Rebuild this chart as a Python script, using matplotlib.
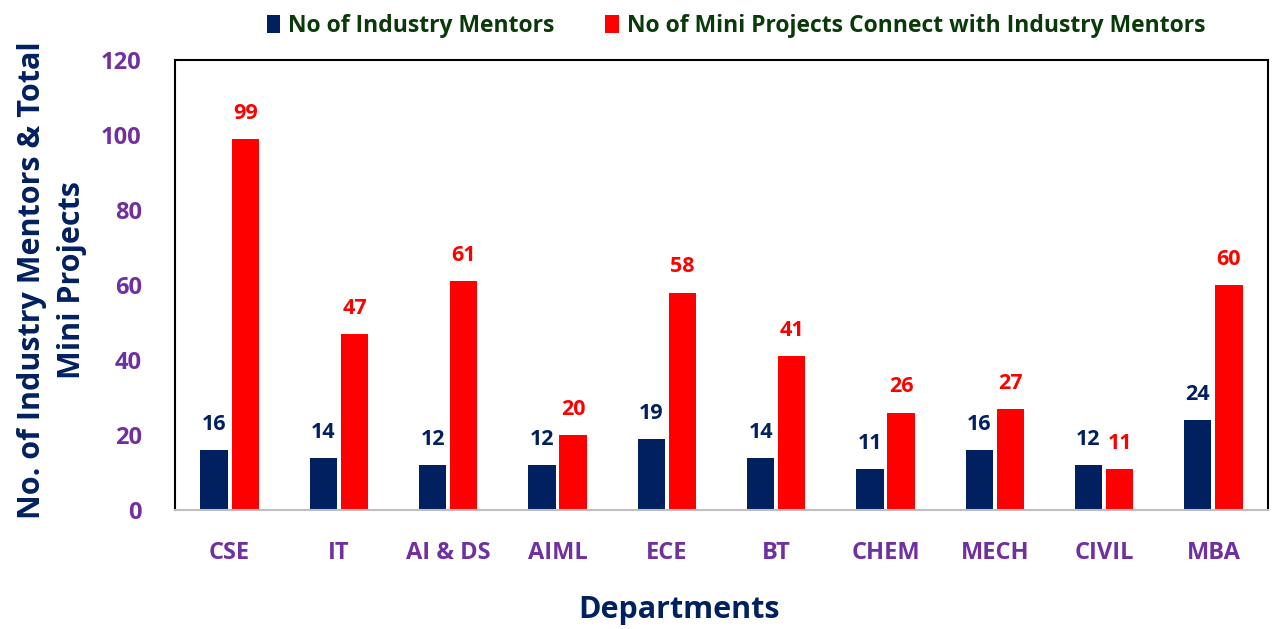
import matplotlib
matplotlib.use("Agg")
import matplotlib.pyplot as plt
import numpy as np

# data
departments = ["CSE", "IT", "AI & DS", "AIML", "ECE", "BT", "CHEM", "MECH", "CIVIL", "MBA"]
mentors = [16, 14, 12, 12, 19, 14, 11, 16, 12, 24]
projects = [99, 47, 61, 20, 58, 41, 26, 27, 11, 60]

NAVY = "#002060"
RED = "#FF0000"
PURPLE = "#7030A0"
GREEN = "#0A3A0A"

plt.rcParams["font.family"] = ["Open Sans", "DejaVu Sans"]
plt.rcParams["font.weight"] = "bold"

fig = plt.figure(figsize=(12.73, 6.29), dpi=100)
ax = fig.add_axes([175 / 1273, 1 - 510 / 629, 1093 / 1273, 450 / 629])

x = np.arange(len(departments))
w = 0.25
off = 0.142
b1 = ax.bar(x - off, mentors, w, color=NAVY, label="No of Industry Mentors")
b2 = ax.bar(x + off, projects, w, color=RED, label="No of Mini Projects Connect with Industry Mentors")

# value labels above bars
for rect, v in zip(b1, mentors):
    ax.text(rect.get_x() + rect.get_width() / 2, v + 4, str(v), ha="center", va="bottom",
            color=NAVY, fontsize=15.5, fontweight="bold")
for rect, v in zip(b2, projects):
    ax.text(rect.get_x() + rect.get_width() / 2, v + 4, str(v), ha="center", va="bottom",
            color=RED, fontsize=15.5, fontweight="bold")

ax.set_xlim(-0.5, len(departments) - 0.5)
ax.set_ylim(0, 120)
ax.set_yticks(range(0, 121, 20))
ax.set_xticks(x)
ax.set_xticklabels(departments)
ax.tick_params(axis="both", length=0, labelsize=17, labelcolor=PURPLE)
ax.tick_params(axis="y", pad=24)
ax.tick_params(axis="x", pad=22)
for lab in ax.get_xticklabels() + ax.get_yticklabels():
    lab.set_fontweight("bold")

for s in ["left", "top", "right"]:
    ax.spines[s].set_color("black")
    ax.spines[s].set_linewidth(1.5)
ax.spines["bottom"].set_color("#BFBFBF")
ax.spines["bottom"].set_linewidth(1.5)

ax.set_xlabel("Departments", fontsize=22, fontweight="bold", color=NAVY)
ax.xaxis.set_label_coords((679 - 175) / 1093, -(610 - 510) / 450)
ax.xaxis.label.set_va("center")
ax.set_ylabel("No. of Industry Mentors & Total\nMini Projects", fontsize=22, fontweight="bold",
              color=NAVY, linespacing=1.45)
ax.yaxis.set_label_coords(-(175 - 52) / 1093, 0.51)
ax.yaxis.label.set_va("center")

leg = fig.legend(loc="center", bbox_to_anchor=(736 / 1273, 1 - 26 / 629), ncol=2, frameon=False,
                 fontsize=16.5, handlelength=0.6, handleheight=0.8, handletextpad=0.35, columnspacing=2.2)
for t in leg.get_texts():
    t.set_color(GREEN)
    t.set_fontweight("bold")

fig.savefig("out.png", dpi=100)
